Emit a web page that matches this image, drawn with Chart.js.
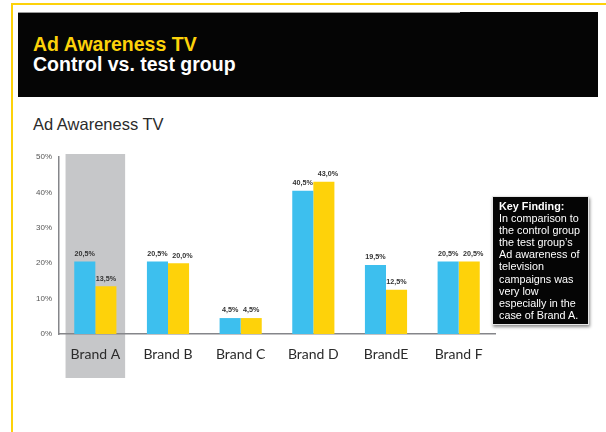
<!DOCTYPE html>
<html>
<head>
<meta charset="utf-8">
<script src="https://cdn.jsdelivr.net/npm/chart.js@4/dist/chart.umd.min.js"></script>
<style>
  html, body { margin: 0; padding: 0; background: #fff; }
  body { width: 606px; height: 432px; position: relative; overflow: hidden; font-family: "Liberation Sans", Arial, sans-serif; }
  .frame-top { position: absolute; left: 11px; top: 3px; width: 595px; height: 2px; background: #fdd20a; }
  .frame-left { position: absolute; left: 11px; top: 3px; width: 2px; height: 429px; background: #fdd20a; }
  .header { position: absolute; left: 18px; top: 12px; width: 580px; height: 85px; background: #050505; }
  .header .edge { position: absolute; left: 0; top: 0; width: 442px; height: 1px; background: #9a9a9a; }
  .header h1 { position: absolute; left: 15px; top: 22px; margin: 0; font-size: 19.5px; line-height: 20px; font-weight: bold; color: #fdd20a; }
  .header h2 { position: absolute; left: 15px; top: 42px; margin: 0; font-size: 19.5px; line-height: 20px; font-weight: bold; color: #fff; }
  .subtitle { position: absolute; left: 33px; top: 115px; margin: 0; font-size: 16.5px; font-weight: normal; color: #2b2b2b; }
  #wrap { position: absolute; left: 0; top: 140px; width: 606px; height: 250px; }
  .note { position: absolute; left: 492px; top: 196px; width: 86px; height: 121px; padding: 3px 3px 3px 6px; background: #050505; border: 1px solid #e6e6e6;
          box-shadow: 1px 2px 3px rgba(0,0,0,0.45); color: #fff; font-size: 10.8px; line-height: 12.1px; white-space: nowrap; }
  .note b { font-weight: bold; }
</style>
</head>
<body>
<div class="frame-top"></div>
<div class="frame-left"></div>
<div class="header">
  <div class="edge"></div>
  <h1>Ad Awareness TV</h1>
  <h2>Control vs. test group</h2>
</div>
<div class="subtitle">Ad Awareness TV</div>
<div id="wrap"><canvas id="awareness"></canvas></div>
<div class="note"><b>Key Finding:</b><br>In comparison to<br>the control group<br>the test group’s<br>Ad awareness of<br>television<br>campaigns was<br>very low<br>especially in the<br>case of Brand A.</div>

<script>
const brands = ['Brand A', 'Brand B', 'Brand C', 'Brand D', 'BrandE', 'Brand F'];
const controlGroup = [20.5, 20.5, 4.5, 40.5, 19.5, 20.5];
const testGroup = [13.5, 20.0, 4.5, 43.0, 12.5, 20.5];
const yTicks = [0, 10, 20, 30, 40, 50];
const highlighted = 'Brand A';

// grauer Hintergrund hinter der hervorgehobenen Marke
const highlightBand = {
  id: 'highlightBand',
  beforeDraw(chart) {
    const x = chart.scales.x;
    const area = chart.chartArea;
    const idx = brands.indexOf(highlighted);
    if (idx < 0) return;
    const cx = x.getPixelForValue(idx);
    const w = (x.width / brands.length) * 0.82;
    const ctx = chart.ctx;
    ctx.save();
    ctx.fillStyle = '#c6c7c9';
    ctx.fillRect(cx - w / 2, area.top - 3, w, area.bottom - area.top + 47);
    ctx.restore();
  }
};

// Werte über den Balken (mit Komma)
const valueLabels = {
  id: 'valueLabels',
  afterDatasetsDraw(chart) {
    const ctx = chart.ctx;
    ctx.save();
    ctx.font = 'bold 7.2px "Liberation Sans", Arial, sans-serif';
    ctx.fillStyle = '#333';
    ctx.textAlign = 'center';
    ctx.textBaseline = 'bottom';
    const first = chart.getDatasetMeta(0).data;
    chart.data.datasets.forEach((ds, i) => {
      chart.getDatasetMeta(i).data.forEach((bar, j) => {
        const txt = ds.data[j].toFixed(1).replace('.', ',') + '%';
        let x = bar.x;
        // Etiketten auf gleicher Höhe etwas auseinanderschieben
        if (i === 1 && Math.abs(first[j].y - bar.y) < 9 && ds.data[j] > 10) x += 4;
        ctx.fillText(txt, x, bar.y - 4);
      });
    });
    ctx.restore();
  }
};

new Chart(document.getElementById('awareness'), {
  type: 'bar',
  data: {
    labels: brands,
    datasets: [
      { label: 'Control group', data: controlGroup, backgroundColor: '#3dbfee' },
      { label: 'Test group', data: testGroup, backgroundColor: '#fed20a' }
    ]
  },
  options: {
    responsive: true,
    maintainAspectRatio: false,
    animation: false,
    layout: { padding: { top: 17, right: 111, left: 0, bottom: 0 } },
    datasets: { bar: { categoryPercentage: 0.58, barPercentage: 1.0 } },
    plugins: {
      legend: { display: false },
      tooltip: { enabled: false }
    },
    scales: {
      x: {
        grid: { display: false, drawTicks: false },
        border: { display: true, color: '#85868a', width: 1.5 },
        ticks: { color: '#2b2b2b', padding: 12, font: { family: 'Lato', size: 14 } },
        afterFit(s) { s.height = 56; }
      },
      y: {
        min: 0,
        max: 50,
        afterBuildTicks(s) { s.ticks = yTicks.map(v => ({ value: v })); },
        grid: { display: false, drawTicks: false },
        border: { display: true, color: '#85868a', width: 1.5 },
        ticks: {
          color: '#555',
          padding: 7,
          font: { family: '"Liberation Sans", Arial', size: 8 },
          callback: v => v + '%'
        },
        afterFit(s) { s.width = 59; }
      }
    }
  },
  plugins: [highlightBand, valueLabels]
});
</script>
</body>
</html>
